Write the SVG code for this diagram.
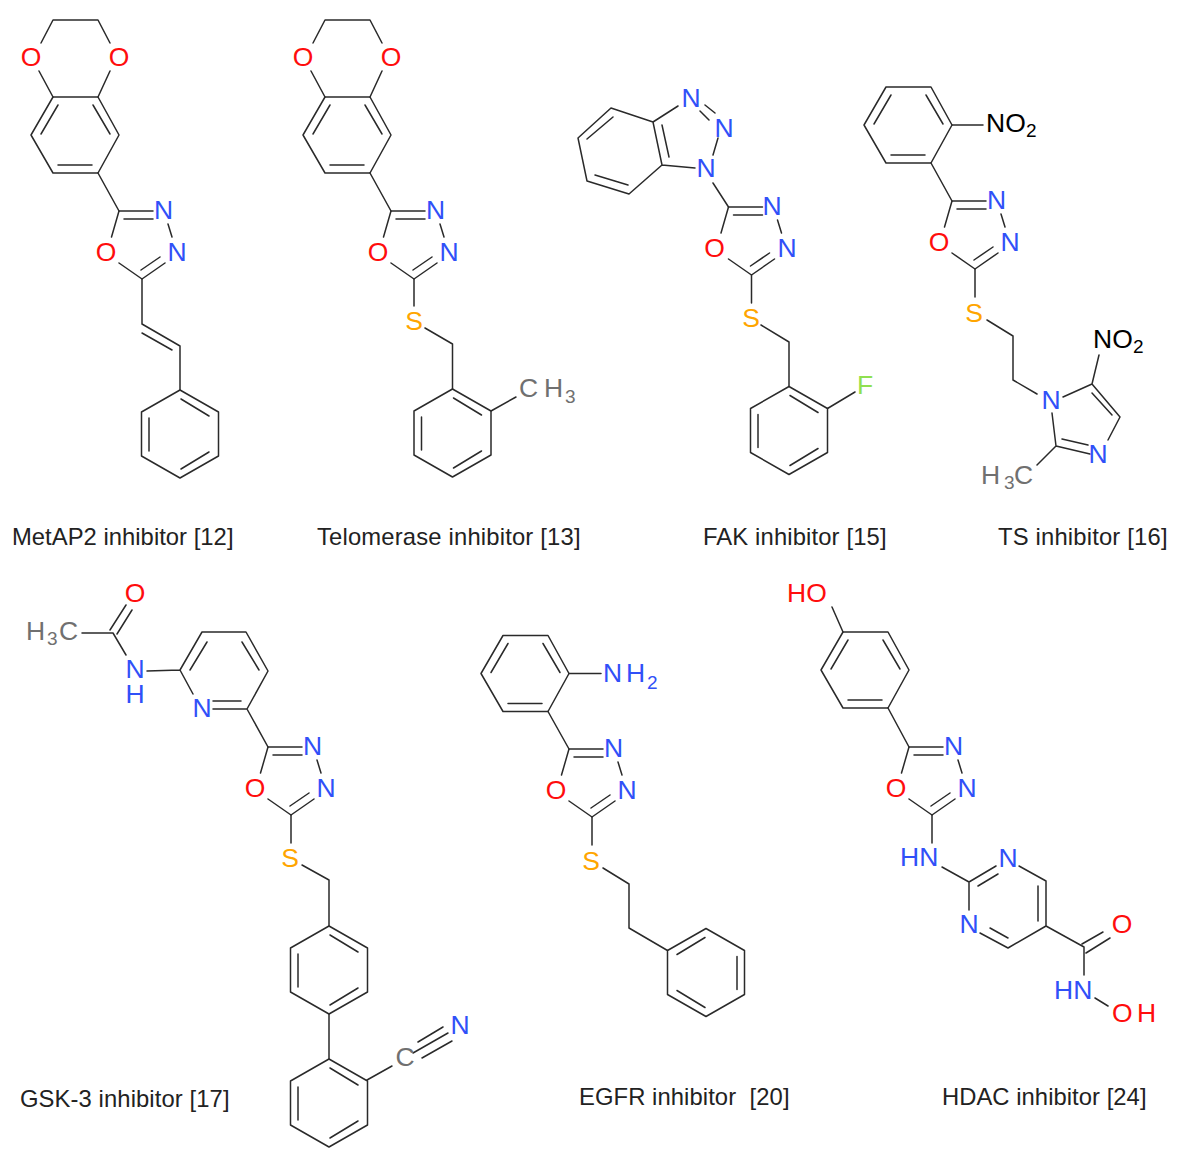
<svg xmlns="http://www.w3.org/2000/svg" width="1181" height="1160" viewBox="0 0 1181 1160">
<style>
text{font-family:"Liberation Sans",Arial,sans-serif;font-size:26.5px}
.b{fill:none;stroke:#2a2a2a;stroke-width:1.5;stroke-linecap:round;stroke-linejoin:round}
.m{text-anchor:middle}
.N{fill:#3050f8}.O{fill:#ff0d0d}.S{fill:#ffa500}.F{fill:#90e050}.C{fill:#707070}.K{fill:#000}
.sub{font-size:19px}
.cap{font-size:23.8px;fill:#222;white-space:pre}
</style>
<defs>
<path id="oxa" class="b" d="M0 0L-7.500 26M0 0H34M5 8H34M49 13L53 26M46 52L23 68M22 59L41 46M23 68L0 52"/>
<g id="hexV" class="b"><path d="M0-44L38.500-22V22L0 44L-38.500 22V-22Z"/><path d="M1-35L29-18M29 18L1 35M-31-16V17"/></g>
<g id="hexVm" class="b"><path d="M0-44L38.500-22V22L0 44L-38.500 22V-22Z"/><path d="M-1-35L-29-18M-29 18L-1 35M31-16V17"/></g>
<g id="hexF" class="b"><path d="M-22-38H23L44 0L23 38H-22L-44 0Z"/><path d="M-17-30L-34-1M18-30L35-1M-17 30H17"/></g>
</defs>

<g id="metap2">
<use href="#hexF" x="75" y="135"/>
<use href="#oxa" x="119" y="211"/>
<use href="#hexV" x="180" y="434"/>
<path class="b" d="M41 43L53 20H98L110 43M39 71L53 97M110 71L98 97M98 173L119 211M142 279V324L180 346V390M142 333L172 350"/>
<text class="O m" x="31" y="66">O</text><text class="O m" x="119" y="66">O</text>
<text class="N m" x="163.500" y="218.500">N</text><text class="N m" x="177" y="261">N</text><text class="O m" x="106" y="261">O</text>
<text class="cap" x="12" y="545" textLength="221.500">MetAP2 inhibitor [12]</text>
</g>

<g id="telomerase">
<use href="#hexF" x="347" y="135"/>
<use href="#oxa" x="391" y="211"/>
<use href="#hexV" x="452.500" y="433"/>
<path class="b" d="M313 43L325 20H370L382 43M311 71L325 97M382 71L370 97M370 173L391 211M414 279V306M425 328L452.500 344V389M491 411L516 397"/>
<text class="O m" x="303" y="66">O</text><text class="O m" x="391" y="66">O</text>
<text class="N m" x="435.500" y="218.500">N</text><text class="N m" x="449" y="261">N</text><text class="O m" x="378" y="261">O</text>
<text class="S m" x="414" y="330">S</text>
<text class="C" x="519" y="397">C<tspan x="544">H</tspan><tspan class="sub" x="565" dy="6">3</tspan></text>
<text class="cap" x="317" y="545" textLength="263.500">Telomerase inhibitor [13]</text>
</g>

<g id="fak">
<use href="#oxa" x="728.500" y="207"/>
<use href="#hexV" x="789" y="430.500"/>
<path class="b" d="M611 108L578 138L587 181L629 194L662 165L653 122ZM613 117L587 139M595 175L628 185M662 125L669 157M653 122L678 106M662 165L695 168M705 105L715 113M700 111L709 120M718 138L713 155M713 183L728.500 207M751.500 275V303M761 325L789 342V386.500M827.500 408.500L855 392"/>
<text class="N m" x="691" y="107">N</text><text class="N m" x="724" y="137">N</text><text class="N m" x="706" y="177">N</text>
<text class="N m" x="772" y="214.500">N</text><text class="N m" x="787" y="257">N</text><text class="O m" x="714.500" y="257">O</text>
<text class="S m" x="751" y="327">S</text>
<text class="F" x="857" y="394">F</text>
<text class="cap" x="703" y="545" textLength="183.500">FAK inhibitor [15]</text>
</g>

<g id="ts">
<use href="#hexF" x="908" y="125"/>
<use href="#oxa" x="952" y="201"/>
<path class="b" d="M952 125H983M931 163L952 201M975 269V297M987 320L1013 336V380L1037 394M1063 397L1092 384L1120 417L1108 440M1092 393L1112 415M1052 413L1056 446L1090 454M1062 439L1088 445M1056 446L1037 465M1092 384L1099 355"/>
<text class="K" x="986" y="132">NO<tspan class="sub" x="1026" dy="5">2</tspan></text>
<text class="N m" x="996.500" y="208.500">N</text><text class="N m" x="1010" y="251">N</text><text class="O m" x="939" y="251">O</text>
<text class="S m" x="974" y="322">S</text>
<text class="K" x="1093" y="348">NO<tspan class="sub" x="1133" dy="5">2</tspan></text>
<text class="N m" x="1051" y="409">N</text><text class="N m" x="1098" y="463">N</text>
<text class="C" x="981" y="484">H<tspan class="sub" x="1004" dy="5">3</tspan><tspan x="1014" dy="-5">C</tspan></text>
<text class="cap" x="998" y="545" textLength="169.500">TS inhibitor [16]</text>
</g>

<g id="gsk3">
<use href="#oxa" x="268" y="747"/>
<use href="#hexV" x="329" y="970"/>
<use href="#hexV" x="329" y="1103"/>
<path class="b" d="M82 633H113M110 630L126 605M117 634L132 610M113 633L126 655M147 671L180 670L202 632H246L268 671L247 709H213M190 670L207 642M242 642L259 670M213 701H241M180 670L193 694M247 709L268 747M291 815V843M302 865L329 880V926M329 1014V1059M367 1080L392 1066M418 1042L443 1027M413 1053L448 1033M422 1058L452 1041"/>
<text class="O m" x="135" y="602">O</text>
<text class="C" x="26" y="640">H<tspan class="sub" x="47" dy="5">3</tspan><tspan x="59" dy="-5">C</tspan></text>
<text class="N m" x="135" y="678">N<tspan x="135" y="703">H</tspan></text>
<text class="N m" x="202" y="717">N</text>
<text class="N m" x="312.500" y="754.500">N</text><text class="N m" x="326" y="797">N</text><text class="O m" x="255" y="797">O</text>
<text class="S m" x="290" y="867">S</text>
<text class="C m" x="405" y="1066">C</text><text class="N m" x="460" y="1034">N</text>
<text class="cap" x="20" y="1107" textLength="209.500">GSK-3 inhibitor [17]</text>
</g>

<g id="egfr">
<use href="#hexF" x="525" y="673.500"/>
<use href="#oxa" x="569" y="749"/>
<use href="#hexVm" x="706" y="972.500"/>
<path class="b" d="M569 673.500H601M548 711.500L569 749M592 817V845M603 868L629 884V928L667.500 950.500"/>
<text class="N" x="603" y="682">N<tspan x="626">H</tspan><tspan class="sub" x="647" dy="7">2</tspan></text>
<text class="N m" x="613.500" y="756.500">N</text><text class="N m" x="627" y="799">N</text><text class="O m" x="556" y="799">O</text>
<text class="S m" x="591" y="870">S</text>
<text class="cap" x="579" y="1105" textLength="210.500">EGFR inhibitor  [20]</text>
</g>

<g id="hdac">
<use href="#hexF" x="865" y="670"/>
<use href="#oxa" x="909" y="747"/>
<path class="b" d="M832 607L843 632M888 708L909 747M932 815V843M942 867L969 882L996 866M978 886L998 874M1019 866L1046 881V926L1008 948L980 933M1038 886V921M990 928L1008 938M969 882V910M1046 926L1084 947V975M1082 944L1103 932M1086 953L1110 938M1095 998L1108 1006"/>
<text class="O" x="787" y="602">HO</text>
<text class="N m" x="953.500" y="754.500">N</text><text class="N m" x="967" y="797">N</text><text class="O m" x="896" y="797">O</text>
<text class="N" x="900" y="866">HN</text>
<text class="N m" x="1008" y="867">N</text><text class="N m" x="969" y="933">N</text>
<text class="O m" x="1122" y="933">O</text>
<text class="N" x="1054" y="999">HN</text>
<text class="O" x="1112" y="1022">O<tspan x="1137">H</tspan></text>
<text class="cap" x="942" y="1105" textLength="204.500">HDAC inhibitor [24]</text>
</g>
</svg>
